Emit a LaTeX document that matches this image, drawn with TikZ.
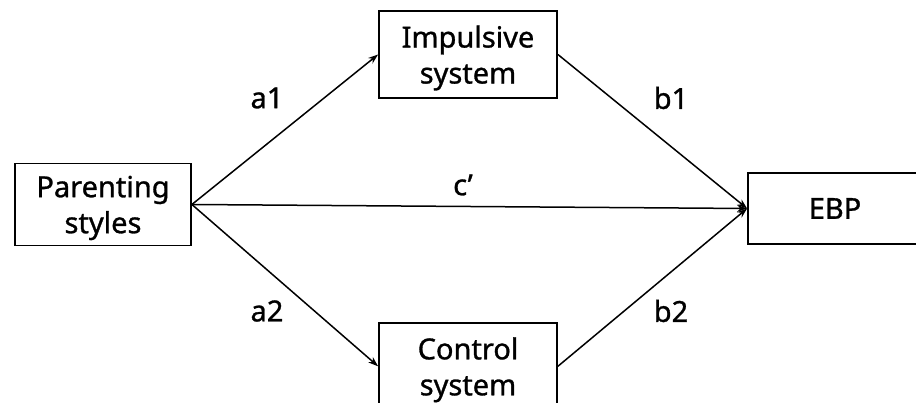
\documentclass[tikz,border=0pt]{standalone}
\usepackage{fontspec}
\setmainfont{Noto Sans}[FakeBold=1]
\usetikzlibrary{shapes,arrows,arrows.meta,positioning,calc}

\begin{document}
\begin{tikzpicture}[
    x=1pt, y=1pt,
    every node/.style={font=\fontsize{29}{36}\selectfont},
    var/.style={rectangle, draw=black, line width=1.8pt, align=center, inner sep=0pt, text depth=0pt},
    arrow/.style={->, >={Stealth[length=10pt, width=7pt]}, line width=1.5pt, black},
    coef/.style={font=\fontsize{29}{36}\selectfont}
]
\useasboundingbox (0,0) rectangle (916,403);
\clip (0,0) rectangle (916,403);

% Predictor
\node[var, minimum width=176pt, minimum height=82pt] (parenting) at (103,198.5) {Parenting\\styles};

% Mediators
\node[var, minimum width=178pt, minimum height=87pt] (impulsive) at (468,348.5) {Impulsive\\system};
\node[var, minimum width=178pt, minimum height=87pt, below=223pt of impulsive] (control) {Control\\system};

% Outcome
\node[var, minimum width=174pt, minimum height=71pt] (ebp) at (835,194.5) {EBP};

% Path labels
\node[coef] (a1) at (267,305) {a1};
\node[coef] (a2) at (267,92) {a2};
\node[coef] (b1) at (671,305) {b1};
\node[coef] (b2) at (671,92) {b2};
\node[coef] (c) at (463,218) {c’};

% Arrows
\draw[arrow] (parenting.east) -- (impulsive.west);
\draw[arrow] (parenting.east) -- (control.west);
\draw[arrow] (parenting.east) -- (ebp.west);
\draw[arrow] (impulsive.east) -- (ebp.west);
\draw[arrow] (control.east) -- (ebp.west);

\end{tikzpicture}
\end{document}
